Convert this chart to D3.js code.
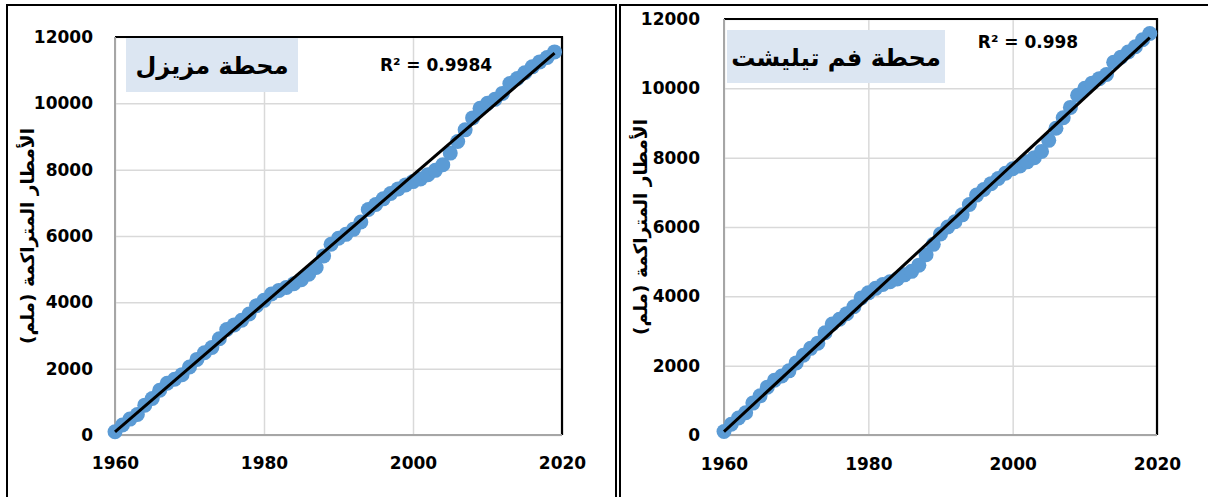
<!DOCTYPE html>
<html>
<head>
<meta charset="utf-8">
<script src="https://cdn.jsdelivr.net/npm/d3@7"></script>
<style>
  html, body { margin: 0; padding: 0; background: #fff; }
  svg { display: block; }
  .tick text { font-family: "DejaVu Sans", sans-serif; font-weight: bold; font-size: 17px; fill: #000; }
</style>
</head>
<body>
<svg id="chart" width="1208" height="497"></svg>
<script>
// Years of record
const years = [
  1960, 1961, 1962, 1963, 1964, 1965, 1966, 1967, 1968, 1969,
  1970, 1971, 1972, 1973, 1974, 1975, 1976, 1977, 1978, 1979,
  1980, 1981, 1982, 1983, 1984, 1985, 1986, 1987, 1988, 1989,
  1990, 1991, 1992, 1993, 1994, 1995, 1996, 1997, 1998, 1999,
  2000, 2001, 2002, 2003, 2004, 2005, 2006, 2007, 2008, 2009,
  2010, 2011, 2012, 2013, 2014, 2015, 2016, 2017, 2018, 2019
];

// Cumulative rainfall (mm) — Mzizel station
const mzizelCumulative = [
  100, 300, 480, 620, 900, 1100, 1350, 1560, 1680, 1820,
  2050, 2280, 2480, 2640, 2900, 3180, 3320, 3460, 3650, 3900,
  4060, 4250, 4360, 4450, 4560, 4680, 4850, 5050, 5400, 5750,
  5930, 6050, 6200, 6420, 6800, 6950, 7120, 7280, 7420, 7540,
  7640, 7720, 7850, 7980, 8150, 8500, 8850, 9200, 9560, 9850,
  10000, 10120, 10300, 10600, 10750, 10920, 11100, 11250, 11380, 11550
];

// Cumulative rainfall (mm) — Foum Tillicht station
const foumCumulative = [
  100, 310, 490, 640, 920, 1130, 1380, 1580, 1700, 1850,
  2080, 2300, 2500, 2650, 2950, 3200, 3340, 3500, 3700, 3950,
  4100, 4230, 4340, 4420, 4500, 4620, 4720, 4900, 5200, 5500,
  5800, 6000, 6150, 6350, 6650, 6920, 7080, 7250, 7400, 7550,
  7680, 7760, 7880, 8000, 8180, 8500, 8850, 9150, 9450, 9800,
  10000, 10150, 10280, 10400, 10750, 10900, 11050, 11200, 11400, 11580
];

const xTickValues = [1960, 1980, 2000, 2020];
const yTickValues = [0, 2000, 4000, 6000, 8000, 10000, 12000];

const stationTitles = ["محطة مزيزل", "محطة فم تيليشت"];
const r2Labels = ["R² = 0.9984", "R² = 0.998"];
const yAxisTitle = "الأمطار المتراكمة (ملم)";

const svg = d3.select("#chart");

// Panel frames
svg.append("path")
  .attr("d", "M7,500 V5 H616 V500")
  .attr("fill", "none").attr("stroke", "#000").attr("stroke-width", 2);
svg.append("path")
  .attr("d", "M620,500 V5 H1210")
  .attr("fill", "none").attr("stroke", "#000").attr("stroke-width", 2);

function drawPanel(cfg, values, title, r2) {
  const x = d3.scaleLinear().domain([1960, 2020]).range([cfg.left, cfg.right]);
  const y = d3.scaleLinear().domain([0, 12000]).range([cfg.bottom, cfg.top]);
  const w = cfg.right - cfg.left, h = cfg.bottom - cfg.top;
  const g = svg.append("g");

  // gridlines
  g.append("g")
    .attr("transform", `translate(${cfg.left},0)`)
    .call(d3.axisLeft(y).tickValues(yTickValues).tickSize(-w).tickFormat(""))
    .call(s => s.select(".domain").remove())
    .call(s => s.selectAll("line").attr("stroke", "#d9d9d9").attr("stroke-width", 1.5));
  g.append("g")
    .attr("transform", `translate(0,${cfg.bottom})`)
    .call(d3.axisBottom(x).tickValues(xTickValues).tickSize(-h).tickFormat(""))
    .call(s => s.select(".domain").remove())
    .call(s => s.selectAll("line").attr("stroke", "#d9d9d9").attr("stroke-width", 1.5));

  // plot frame: black top/right, grey axes left/bottom
  g.append("path")
    .attr("d", `M${cfg.left},${cfg.top} H${cfg.right} V${cfg.bottom}`)
    .attr("fill", "none").attr("stroke", "#000").attr("stroke-width", 2.2);
  g.append("path")
    .attr("d", `M${cfg.left},${cfg.top} V${cfg.bottom} H${cfg.right}`)
    .attr("fill", "none").attr("stroke", "#a6a6a6").attr("stroke-width", 2);

  // tick labels
  g.append("g")
    .attr("transform", `translate(${cfg.left},0)`)
    .call(d3.axisLeft(y).tickValues(yTickValues).tickSize(0).tickPadding(cfg.left - cfg.yLabelRight)
      .tickFormat(d3.format("d")))
    .call(s => s.select(".domain").remove());
  g.append("g")
    .attr("transform", `translate(0,${cfg.bottom})`)
    .call(d3.axisBottom(x).tickValues(xTickValues).tickSize(0).tickPadding(cfg.xLabelPad)
      .tickFormat(d3.format("d")))
    .call(s => s.select(".domain").remove());

  // y-axis title
  g.append("text")
    .attr("transform", `translate(${cfg.yTitleX},${(cfg.top + cfg.bottom) / 2}) rotate(-90)`)
    .attr("text-anchor", "middle")
    .attr("dominant-baseline", "central")
    .attr("direction", "rtl")
    .style("font-family", "'DejaVu Sans', sans-serif")
    .style("font-weight", "bold")
    .style("font-size", "18.5px")
    .text(yAxisTitle);

  // station title box
  g.append("rect")
    .attr("x", cfg.box[0]).attr("y", cfg.box[1])
    .attr("width", cfg.box[2]).attr("height", cfg.box[3])
    .attr("fill", "#dce6f2");
  g.append("text")
    .attr("x", cfg.box[0] + cfg.box[2] / 2)
    .attr("y", cfg.box[1] + cfg.box[3] / 2 + 1)
    .attr("text-anchor", "middle")
    .attr("dominant-baseline", "central")
    .attr("direction", "rtl")
    .style("font-family", "'DejaVu Sans', sans-serif")
    .style("font-weight", "bold")
    .style("font-size", "24px")
    .text(title);

  // data points
  const pts = years.map((yr, i) => ({ year: yr, value: values[i] }));
  g.append("g").selectAll("circle")
    .data(pts).join("circle")
    .attr("cx", d => x(d.year)).attr("cy", d => y(d.value))
    .attr("r", 7.5).attr("fill", "#5b9bd5");

  // least-squares linear trend line
  const n = pts.length;
  const mx = d3.mean(pts, d => d.year), my = d3.mean(pts, d => d.value);
  const sxy = d3.sum(pts, d => (d.year - mx) * (d.value - my));
  const sxx = d3.sum(pts, d => (d.year - mx) ** 2);
  const slope = sxy / sxx, icpt = my - slope * mx;
  const x0 = years[0], x1 = years[n - 1];
  g.append("line")
    .attr("x1", x(x0)).attr("y1", y(slope * x0 + icpt))
    .attr("x2", x(x1)).attr("y2", y(slope * x1 + icpt))
    .attr("stroke", "#000").attr("stroke-width", 3);

  // R² annotation
  g.append("text")
    .attr("x", cfg.r2[0]).attr("y", cfg.r2[1])
    .attr("text-anchor", "middle")
    .attr("dominant-baseline", "central")
    .style("font-family", "'DejaVu Sans', sans-serif")
    .style("font-weight", "bold")
    .style("font-size", "17px")
    .text(r2);
}

drawPanel({ left: 115, right: 562, top: 37, bottom: 435, yLabelRight: 93, xLabelPad: 22,
            yTitleX: 27, box: [126, 38, 172, 54], r2: [436, 65] },
          mzizelCumulative, stationTitles[0], r2Labels[0]);
drawPanel({ left: 724, right: 1157, top: 19, bottom: 435, yLabelRight: 700, xLabelPad: 23,
            yTitleX: 640, box: [727, 30, 218, 53], r2: [1028, 42] },
          foumCumulative, stationTitles[1], r2Labels[1]);
</script>
</body>
</html>
